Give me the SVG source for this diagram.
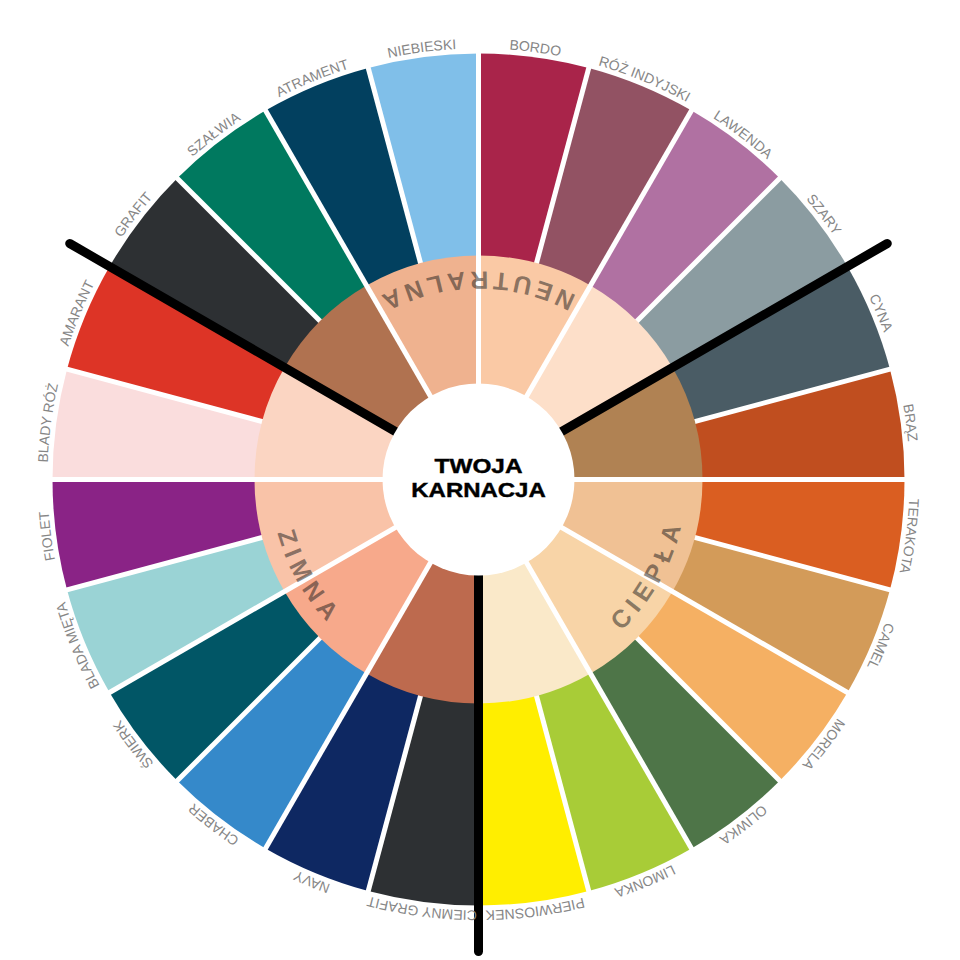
<svg xmlns="http://www.w3.org/2000/svg" xmlns:xlink="http://www.w3.org/1999/xlink" width="960" height="960" viewBox="0 0 960 960">
<style>
.sep{stroke:#fff;stroke-width:5;fill:none}
.blk{stroke:#000;stroke-width:9;stroke-linecap:round;fill:none}
.lbl{font-family:"Liberation Sans",Arial,sans-serif;font-size:14px;fill:#868686;text-anchor:middle}
.grp{font-family:"Liberation Sans",Arial,sans-serif;font-size:25px;font-weight:bold;fill:#1e1e1e;fill-opacity:0.52;text-anchor:middle;letter-spacing:6px}
.ctr{font-family:"Liberation Sans",Arial,sans-serif;font-size:19.5px;font-weight:bold;fill:#000;text-anchor:middle;stroke:#000;stroke-width:0.4}
</style>
<defs>
<path id="outerPath" d="M0,-431 A431,431 0 1 1 0,431 A431,431 0 1 1 0,-431"/>
<path id="innerPath" d="M0,208 A208,208 0 1 0 0,-208 A208,208 0 1 0 0,208"/>
</defs>
<rect width="960" height="960" fill="#fff"/>
<g transform="translate(478.5,479.5)">
<g id="outer-ring">
<g id="bordo"><path d="M0,0 L0,-426 A426,426 0 0 1 110.257,-411.484 Z" fill="#A9244A"/></g>
<g id="roz-indyjski"><path d="M0,0 L110.257,-411.484 A426,426 0 0 1 213,-368.927 Z" fill="#925263"/></g>
<g id="lawenda"><path d="M0,0 L213,-368.927 A426,426 0 0 1 301.228,-301.228 Z" fill="#B071A2"/></g>
<g id="szary"><path d="M0,0 L301.228,-301.228 A426,426 0 0 1 368.927,-213 Z" fill="#8B9CA1"/></g>
<g id="cyna"><path d="M0,0 L368.927,-213 A426,426 0 0 1 411.484,-110.257 Z" fill="#4A5C65"/></g>
<g id="braz"><path d="M0,0 L411.484,-110.257 A426,426 0 0 1 426,0 Z" fill="#C04E1F"/></g>
<g id="terakota"><path d="M0,0 L426,0 A426,426 0 0 1 411.484,110.257 Z" fill="#DA5E21"/></g>
<g id="camel"><path d="M0,0 L411.484,110.257 A426,426 0 0 1 368.927,213 Z" fill="#D39B59"/></g>
<g id="morela"><path d="M0,0 L368.927,213 A426,426 0 0 1 301.228,301.228 Z" fill="#F5B063"/></g>
<g id="oliwka"><path d="M0,0 L301.228,301.228 A426,426 0 0 1 213,368.927 Z" fill="#4E7548"/></g>
<g id="limonka"><path d="M0,0 L213,368.927 A426,426 0 0 1 110.257,411.484 Z" fill="#A8CC37"/></g>
<g id="pierwiosnek"><path d="M0,0 L110.257,411.484 A426,426 0 0 1 0,426 Z" fill="#FFEE00"/></g>
<g id="ciemny-grafit"><path d="M0,0 L0,426 A426,426 0 0 1 -110.257,411.484 Z" fill="#2D3033"/></g>
<g id="navy"><path d="M0,0 L-110.257,411.484 A426,426 0 0 1 -213,368.927 Z" fill="#0E2862"/></g>
<g id="chaber"><path d="M0,0 L-213,368.927 A426,426 0 0 1 -301.228,301.228 Z" fill="#3589CA"/></g>
<g id="swierk"><path d="M0,0 L-301.228,301.228 A426,426 0 0 1 -368.927,213 Z" fill="#015666"/></g>
<g id="blada-mieta"><path d="M0,0 L-368.927,213 A426,426 0 0 1 -411.484,110.257 Z" fill="#9AD3D5"/></g>
<g id="fiolet"><path d="M0,0 L-411.484,110.257 A426,426 0 0 1 -426,0 Z" fill="#8A2386"/></g>
<g id="blady-roz"><path d="M0,0 L-426,0 A426,426 0 0 1 -411.484,-110.257 Z" fill="#FADDDD"/></g>
<g id="amarant"><path d="M0,0 L-411.484,-110.257 A426,426 0 0 1 -368.927,-213 Z" fill="#DD3426"/></g>
<g id="grafit"><path d="M0,0 L-368.927,-213 A426,426 0 0 1 -301.228,-301.228 Z" fill="#2D3033"/></g>
<g id="szalwia"><path d="M0,0 L-301.228,-301.228 A426,426 0 0 1 -213,-368.927 Z" fill="#00795F"/></g>
<g id="atrament"><path d="M0,0 L-213,-368.927 A426,426 0 0 1 -110.257,-411.484 Z" fill="#02405F"/></g>
<g id="niebieski"><path d="M0,0 L-110.257,-411.484 A426,426 0 0 1 0,-426 Z" fill="#80BFE9"/></g>
</g>
<g id="outer-separators">
<line class="sep" x1="111.292" y1="-415.348" x2="-111.292" y2="415.348"/>
<line class="sep" x1="304.056" y1="-304.056" x2="-304.056" y2="304.056"/>
<line class="sep" x1="415.348" y1="-111.292" x2="-415.348" y2="111.292"/>
<line class="sep" x1="415.348" y1="111.292" x2="-415.348" y2="-111.292"/>
<line class="sep" x1="304.056" y1="304.056" x2="-304.056" y2="-304.056"/>
<line class="sep" x1="111.292" y1="415.348" x2="-111.292" y2="-415.348"/>
</g>
<g id="skin-ring">
<g id="skin-1"><path d="M0,0 L0,-224 A224,224 0 0 1 112,-193.99 Z" fill="#FAC9A5"/></g>
<g id="skin-2"><path d="M0,0 L112,-193.99 A224,224 0 0 1 193.99,-112 Z" fill="#FDDFC9"/></g>
<g id="skin-3"><path d="M0,0 L193.99,-112 A224,224 0 0 1 224,0 Z" fill="#B08253"/></g>
<g id="skin-4"><path d="M0,0 L224,0 A224,224 0 0 1 193.99,112 Z" fill="#F0C194"/></g>
<g id="skin-5"><path d="M0,0 L193.99,112 A224,224 0 0 1 112,193.99 Z" fill="#F8D4A7"/></g>
<g id="skin-6"><path d="M0,0 L112,193.99 A224,224 0 0 1 0,224 Z" fill="#FAE9C9"/></g>
<g id="skin-7"><path d="M0,0 L0,224 A224,224 0 0 1 -112,193.99 Z" fill="#BD6A4E"/></g>
<g id="skin-8"><path d="M0,0 L-112,193.99 A224,224 0 0 1 -193.99,112 Z" fill="#F7A98B"/></g>
<g id="skin-9"><path d="M0,0 L-193.99,112 A224,224 0 0 1 -224,0 Z" fill="#F9C3A8"/></g>
<g id="skin-10"><path d="M0,0 L-224,0 A224,224 0 0 1 -193.99,-112 Z" fill="#FBD5C2"/></g>
<g id="skin-11"><path d="M0,0 L-193.99,-112 A224,224 0 0 1 -112,-193.99 Z" fill="#B07250"/></g>
<g id="skin-12"><path d="M0,0 L-112,-193.99 A224,224 0 0 1 0,-224 Z" fill="#EFB28F"/></g>
</g>
<g id="main-separators">
<line class="sep" x1="0" y1="-430" x2="0" y2="430"/>
<line class="sep" x1="215" y1="-372.391" x2="-215" y2="372.391"/>
<line class="sep" x1="372.391" y1="-215" x2="-372.391" y2="215"/>
<line class="sep" x1="430" y1="0" x2="-430" y2="0"/>
<line class="sep" x1="372.391" y1="215" x2="-372.391" y2="-215"/>
<line class="sep" x1="215" y1="372.391" x2="-215" y2="-372.391"/>
</g>
<g id="connectors">
<line class="blk" x1="0" y1="0" x2="408.764" y2="-236"/>
<line class="blk" x1="0" y1="0" x2="0" y2="472"/>
<line class="blk" x1="0" y1="0" x2="-408.764" y2="-236"/>
</g>
<g id="center">
<circle r="96" fill="#fff"/>
<text class="ctr" transform="translate(0,-6.5) scale(1.25,1)" x="0" y="0">TWOJA</text>
<text class="ctr" transform="translate(0,17.5) scale(1.23,1)" x="0" y="0">KARNACJA</text>
</g>
<g id="group-labels">
<text class="grp"><textPath xlink:href="#innerPath" href="#innerPath" startOffset="50.23%">NEUTRALNA</textPath></text>
<text class="grp"><textPath xlink:href="#innerPath" href="#innerPath" startOffset="16.9%">CIEPŁA</textPath></text>
<text class="grp"><textPath xlink:href="#innerPath" href="#innerPath" startOffset="83.3%">ZIMNA</textPath></text>
</g>
<g id="labels">
<text class="lbl"><textPath xlink:href="#outerPath" href="#outerPath" startOffset="2.0833%">BORDO</textPath></text>
<text class="lbl"><textPath xlink:href="#outerPath" href="#outerPath" startOffset="6.25%">RÓŻ INDYJSKI</textPath></text>
<text class="lbl"><textPath xlink:href="#outerPath" href="#outerPath" startOffset="10.4167%">LAWENDA</textPath></text>
<text class="lbl"><textPath xlink:href="#outerPath" href="#outerPath" startOffset="14.5833%">SZARY</textPath></text>
<text class="lbl"><textPath xlink:href="#outerPath" href="#outerPath" startOffset="18.75%">CYNA</textPath></text>
<text class="lbl"><textPath xlink:href="#outerPath" href="#outerPath" startOffset="22.9167%">BRĄZ</textPath></text>
<text class="lbl"><textPath xlink:href="#outerPath" href="#outerPath" startOffset="27.0833%">TERAKOTA</textPath></text>
<text class="lbl"><textPath xlink:href="#outerPath" href="#outerPath" startOffset="31.25%">CAMEL</textPath></text>
<text class="lbl"><textPath xlink:href="#outerPath" href="#outerPath" startOffset="35.4167%">MORELA</textPath></text>
<text class="lbl"><textPath xlink:href="#outerPath" href="#outerPath" startOffset="39.5833%">OLIWKA</textPath></text>
<text class="lbl"><textPath xlink:href="#outerPath" href="#outerPath" startOffset="43.75%">LIMONKA</textPath></text>
<text class="lbl"><textPath xlink:href="#outerPath" href="#outerPath" startOffset="47.9167%">PIERWIOSNEK</textPath></text>
<text class="lbl"><textPath xlink:href="#outerPath" href="#outerPath" startOffset="52.0833%">CIEMNY GRAFIT</textPath></text>
<text class="lbl"><textPath xlink:href="#outerPath" href="#outerPath" startOffset="56.25%">NAVY</textPath></text>
<text class="lbl"><textPath xlink:href="#outerPath" href="#outerPath" startOffset="60.4167%">CHABER</textPath></text>
<text class="lbl"><textPath xlink:href="#outerPath" href="#outerPath" startOffset="64.5833%">ŚWIERK</textPath></text>
<text class="lbl"><textPath xlink:href="#outerPath" href="#outerPath" startOffset="68.75%">BLADA MIĘTA</textPath></text>
<text class="lbl"><textPath xlink:href="#outerPath" href="#outerPath" startOffset="72.9167%">FIOLET</textPath></text>
<text class="lbl"><textPath xlink:href="#outerPath" href="#outerPath" startOffset="77.0833%">BLADY RÓŻ</textPath></text>
<text class="lbl"><textPath xlink:href="#outerPath" href="#outerPath" startOffset="81.25%">AMARANT</textPath></text>
<text class="lbl"><textPath xlink:href="#outerPath" href="#outerPath" startOffset="85.4167%">GRAFIT</textPath></text>
<text class="lbl"><textPath xlink:href="#outerPath" href="#outerPath" startOffset="89.5833%">SZAŁWIA</textPath></text>
<text class="lbl"><textPath xlink:href="#outerPath" href="#outerPath" startOffset="93.75%">ATRAMENT</textPath></text>
<text class="lbl"><textPath xlink:href="#outerPath" href="#outerPath" startOffset="97.9167%">NIEBIESKI</textPath></text>
</g>
</g>
</svg>
